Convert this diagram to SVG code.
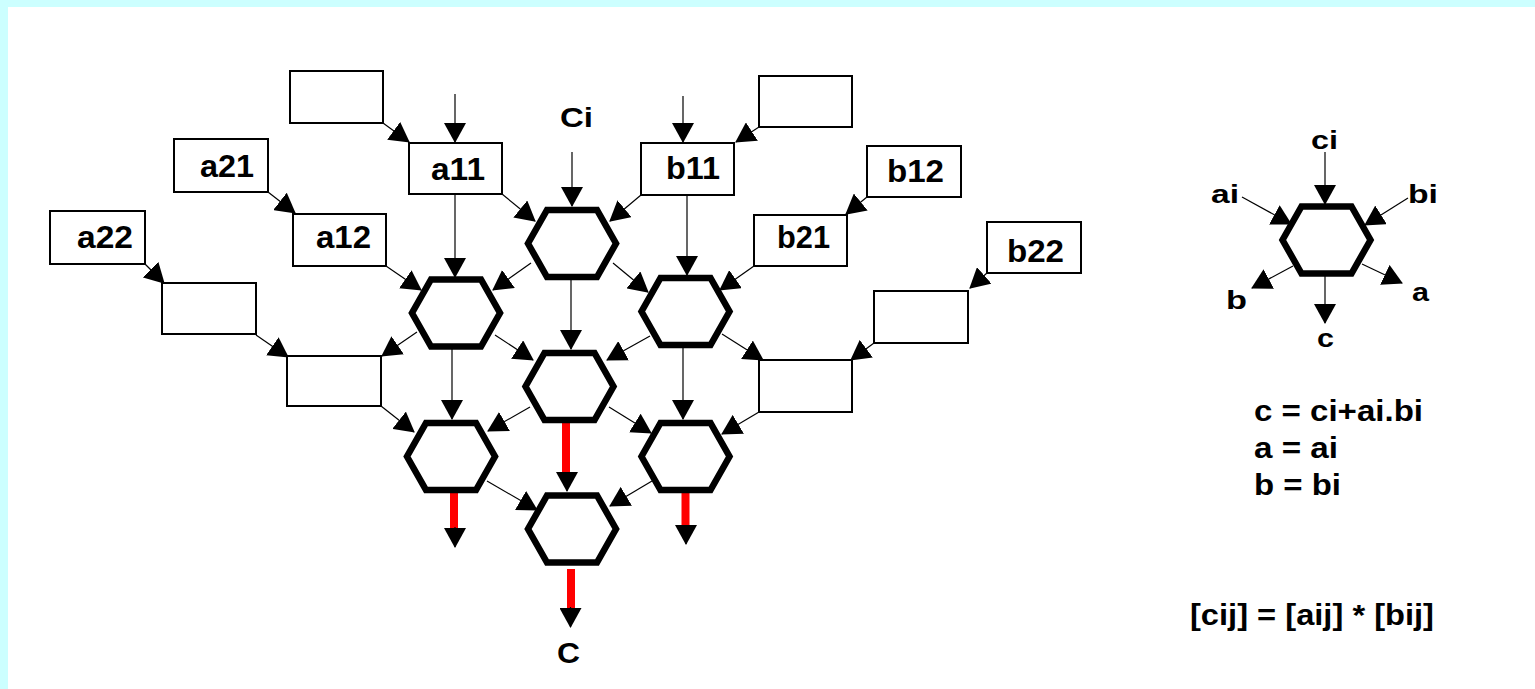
<svg xmlns="http://www.w3.org/2000/svg" xmlns:xlink="http://www.w3.org/1999/xlink" width="1535" height="689" viewBox="0 0 1535 689">
<style>
.box{fill:#fff;stroke:#000;stroke-width:2}
.hex{fill:#fff;stroke:#000;stroke-width:6.5;stroke-linejoin:miter}
.ln{stroke:#000;stroke-width:1.2;fill:none;marker-end:url(#ah)}
.red{stroke:#f00;stroke-width:8;fill:none}
.t{font-family:"Liberation Sans",Arial,sans-serif;font-weight:bold;fill:#000}
.bl{font-size:31px}
.lg{font-size:26px}
.fm{font-size:30px}
</style>
<defs>
<marker id="ah" markerUnits="userSpaceOnUse" markerWidth="20" markerHeight="22" viewBox="0 0 20 22" refX="19" refY="11" orient="auto">
<path d="M0,0 L20,11 L0,22 Z" fill="#000"/>
</marker>
<polygon id="hx" points="-25,-33.5 25,-33.5 44,0 25,33.5 -25,33.5 -44,0"/>
</defs>
<rect x="0" y="0" width="1535" height="689" fill="#ccffff"/>
<rect x="8" y="7" width="1527" height="682" fill="#fff"/>

<g id="connectors">
<line class="ln" x1="383" y1="123" x2="409" y2="142"/>
<line class="ln" x1="455" y1="94" x2="455" y2="142"/>
<line class="ln" x1="268" y1="192" x2="295" y2="213"/>
<line class="ln" x1="145" y1="264" x2="164" y2="283"/>
<line class="ln" x1="256" y1="335" x2="288" y2="357"/>
<line class="ln" x1="502" y1="194" x2="535" y2="221"/>
<line class="ln" x1="455" y1="195" x2="455" y2="277"/>
<line class="ln" x1="386" y1="266" x2="421" y2="290"/>
<line class="ln" x1="759" y1="127" x2="736" y2="142"/>
<line class="ln" x1="683" y1="96" x2="683" y2="142"/>
<line class="ln" x1="867" y1="197" x2="846" y2="214"/>
<line class="ln" x1="987" y1="273" x2="970" y2="288"/>
<line class="ln" x1="874" y1="343" x2="851" y2="360"/>
<line class="ln" x1="641" y1="195" x2="610" y2="221"/>
<line class="ln" x1="687" y1="196" x2="687" y2="275"/>
<line class="ln" x1="754" y1="266" x2="720" y2="290"/>
<line class="ln" x1="572" y1="152" x2="572" y2="206"/>
<line class="ln" x1="531" y1="263" x2="493" y2="290"/>
<line class="ln" x1="613" y1="263" x2="648" y2="292"/>
<line class="ln" x1="571" y1="280" x2="571" y2="349"/>
<line class="ln" x1="417" y1="332" x2="382" y2="356"/>
<line class="ln" x1="495" y1="335" x2="533" y2="360"/>
<line class="ln" x1="452" y1="348" x2="452" y2="419"/>
<line class="ln" x1="650" y1="336" x2="607" y2="360"/>
<line class="ln" x1="683" y1="348" x2="683" y2="419"/>
<line class="ln" x1="722" y1="334" x2="763" y2="360"/>
<line class="ln" x1="381" y1="406" x2="414" y2="432"/>
<line class="ln" x1="759" y1="412" x2="722" y2="434"/>
<line class="ln" x1="530" y1="407" x2="488" y2="431"/>
<line class="ln" x1="609" y1="407" x2="651" y2="433"/>
<line class="ln" x1="487" y1="481" x2="537" y2="510"/>
<line class="ln" x1="652" y1="481" x2="610" y2="506"/>
<line class="red" x1="566" y1="423" x2="566" y2="473"/>
<line class="ln" x1="567" y1="472" x2="567" y2="491"/>
<line class="red" x1="454" y1="489" x2="454" y2="528"/>
<line class="ln" x1="455" y1="527" x2="455" y2="547"/>
<line class="red" x1="685.5" y1="491" x2="685.5" y2="526"/>
<line class="ln" x1="686" y1="525" x2="686" y2="544"/>
<line class="red" x1="571" y1="569" x2="571" y2="608"/>
<line class="ln" x1="570.5" y1="607" x2="570.5" y2="627"/>
<line class="ln" x1="1325" y1="152" x2="1325" y2="204"/>
<line class="ln" x1="1242" y1="197" x2="1291" y2="224"/>
<line class="ln" x1="1408" y1="198" x2="1365" y2="225"/>
<line class="ln" x1="1293" y1="266" x2="1252" y2="288"/>
<line class="ln" x1="1362" y1="264" x2="1402" y2="283"/>
<line class="ln" x1="1325" y1="276" x2="1325" y2="323"/>
</g>

<g id="box_e1"><rect class="box" x="290" y="71" width="93" height="52"/></g>
<g id="box_a11"><rect class="box" x="409" y="143" width="93" height="51"/><text class="t bl" x="431" y="180" textLength="54" lengthAdjust="spacingAndGlyphs">a11</text></g>
<g id="box_a21"><rect class="box" x="174" y="139" width="94" height="53"/><text class="t bl" x="200" y="177" textLength="54" lengthAdjust="spacingAndGlyphs">a21</text></g>
<g id="box_a12"><rect class="box" x="293" y="214" width="93" height="52"/><text class="t bl" x="316" y="248" textLength="55" lengthAdjust="spacingAndGlyphs">a12</text></g>
<g id="box_a22"><rect class="box" x="50" y="211" width="95" height="53"/><text class="t bl" x="77" y="248" textLength="56" lengthAdjust="spacingAndGlyphs">a22</text></g>
<g id="box_e2"><rect class="box" x="162" y="283" width="94" height="51"/></g>
<g id="box_e3"><rect class="box" x="287" y="356" width="94" height="50"/></g>
<g id="box_e4"><rect class="box" x="759" y="76" width="93" height="51"/></g>
<g id="box_b11"><rect class="box" x="641" y="143" width="93" height="52"/><text class="t bl" x="666" y="179" textLength="54" lengthAdjust="spacingAndGlyphs">b11</text></g>
<g id="box_b12"><rect class="box" x="867" y="146" width="94" height="51"/><text class="t bl" x="887" y="182" textLength="57" lengthAdjust="spacingAndGlyphs">b12</text></g>
<g id="box_b21"><rect class="box" x="754" y="215" width="93" height="51"/><text class="t bl" x="777" y="248" textLength="53" lengthAdjust="spacingAndGlyphs">b21</text></g>
<g id="box_b22"><rect class="box" x="987" y="222" width="94" height="51"/><text class="t bl" x="1007" y="262" textLength="57" lengthAdjust="spacingAndGlyphs">b22</text></g>
<g id="box_e5"><rect class="box" x="874" y="291" width="94" height="52"/></g>
<g id="box_e6"><rect class="box" x="759" y="360" width="93" height="52"/></g>

<g id="hex_t"><use xlink:href="#hx" class="hex" transform="translate(572,243.5)"/></g>
<g id="hex_l2"><use xlink:href="#hx" class="hex" transform="translate(456,313)"/></g>
<g id="hex_r2"><use xlink:href="#hx" class="hex" transform="translate(685.5,311.5)"/></g>
<g id="hex_c3"><use xlink:href="#hx" class="hex" transform="translate(569.5,386.5)"/></g>
<g id="hex_l4"><use xlink:href="#hx" class="hex" transform="translate(451,456.5)"/></g>
<g id="hex_r4"><use xlink:href="#hx" class="hex" transform="translate(685.5,456.5)"/></g>
<g id="hex_b5"><use xlink:href="#hx" class="hex" transform="translate(572,529)"/></g>
<g id="hex_legend"><use xlink:href="#hx" class="hex" transform="translate(1326.5,240)"/></g>

<g id="labels">
<text class="t" style="font-size:27px" x="560" y="127" textLength="33" lengthAdjust="spacingAndGlyphs">Ci</text>
<text class="t" style="font-size:29px" x="557" y="663" textLength="23" lengthAdjust="spacingAndGlyphs">C</text>
<text class="t lg" x="1311" y="149" textLength="27" lengthAdjust="spacingAndGlyphs">ci</text>
<text class="t lg" x="1211" y="203" textLength="28" lengthAdjust="spacingAndGlyphs">ai</text>
<text class="t lg" x="1408" y="203" textLength="30" lengthAdjust="spacingAndGlyphs">bi</text>
<text class="t lg" x="1226" y="309" textLength="21" lengthAdjust="spacingAndGlyphs">b</text>
<text class="t lg" x="1412" y="301" textLength="17" lengthAdjust="spacingAndGlyphs">a</text>
<text class="t lg" x="1317" y="347" textLength="17" lengthAdjust="spacingAndGlyphs">c</text>
<text class="t fm" x="1254" y="421" textLength="169" lengthAdjust="spacingAndGlyphs">c = ci+ai.bi</text>
<text class="t fm" x="1254" y="458" textLength="84" lengthAdjust="spacingAndGlyphs">a = ai</text>
<text class="t fm" x="1254" y="495" textLength="87" lengthAdjust="spacingAndGlyphs">b = bi</text>
<text class="t fm" x="1190" y="625" textLength="244" lengthAdjust="spacingAndGlyphs">[cij] = [aij] * [bij]</text>
</g>
</svg>
